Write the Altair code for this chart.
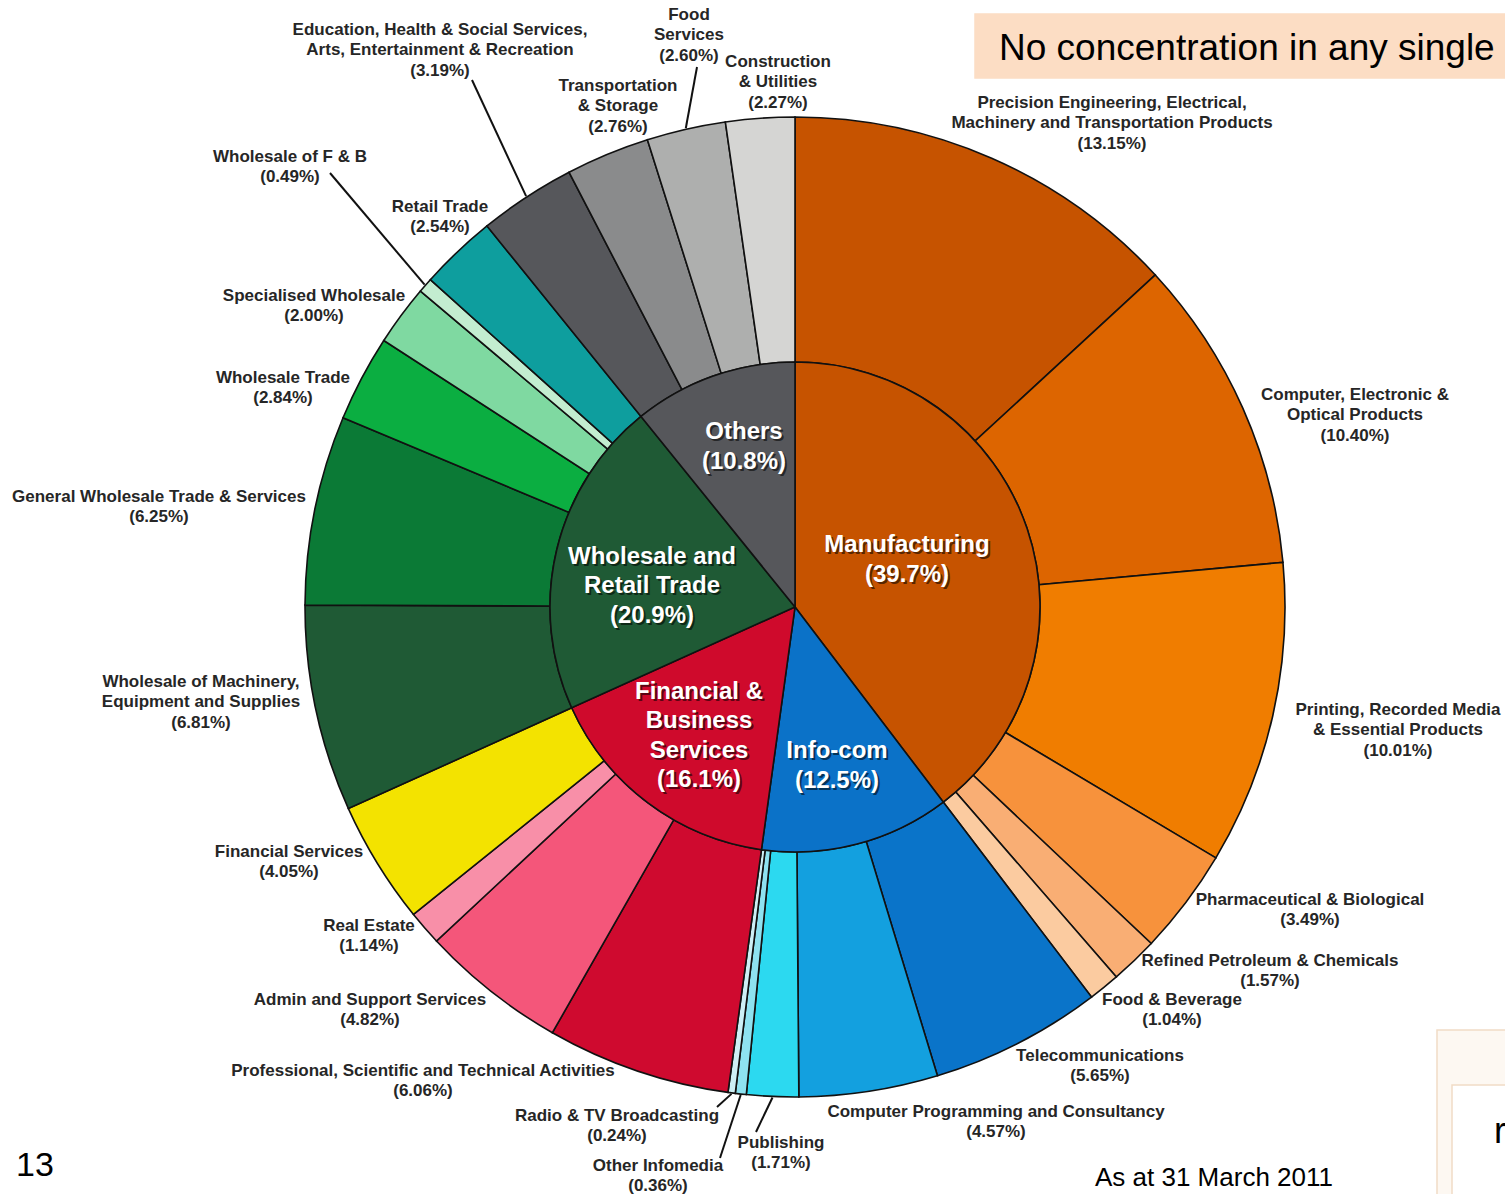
import math
import altair as alt
import pandas as pd

# ---------------- data ----------------
sectors = ["Manufacturing", "Info-com", "Financial & Business Services",
           "Wholesale and Retail Trade", "Others"]
sector_lines = ["Manufacturing", "Info-com", "Financial &\nBusiness\nServices",
                "Wholesale and\nRetail Trade", "Others"]
sector_pct = [39.7, 12.5, 16.1, 20.9, 10.8]

sub_names = [
    "Precision Engineering, Electrical,\nMachinery and Transportation Products",
    "Computer, Electronic &\nOptical Products",
    "Printing, Recorded Media\n& Essential Products",
    "Pharmaceutical & Biological",
    "Refined Petroleum & Chemicals",
    "Food & Beverage",
    "Telecommunications",
    "Computer Programming and Consultancy",
    "Publishing",
    "Other Infomedia",
    "Radio & TV Broadcasting",
    "Professional, Scientific and Technical Activities",
    "Admin and Support Services",
    "Real Estate",
    "Financial Services",
    "Wholesale of Machinery,\nEquipment and Supplies",
    "General Wholesale Trade & Services",
    "Wholesale Trade",
    "Specialised Wholesale",
    "Wholesale of F & B",
    "Retail Trade",
    "Education, Health & Social Services,\nArts, Entertainment & Recreation",
    "Transportation\n& Storage",
    "Food\nServices",
    "Construction\n& Utilities",
]
sub_values = [13.15, 10.40, 10.01, 3.49, 1.57, 1.04,
              5.65, 4.57, 1.71, 0.36, 0.24,
              6.06, 4.82, 1.14, 4.05,
              6.81, 6.25, 2.84, 2.00, 0.49, 2.54,
              3.19, 2.76, 2.60, 2.27]
sub_sector = (["Manufacturing"] * 6 + ["Info-com"] * 5 +
              ["Financial & Business Services"] * 4 +
              ["Wholesale and Retail Trade"] * 6 + ["Others"] * 4)

# ---------------- styles / layout ----------------
sector_colors = ["#C65300", "#0B72C8", "#CF0A2C", "#1F5A35", "#56575B"]
sub_colors = ["#C65300", "#DD6500", "#F07D00", "#F7923C", "#F9AE74", "#FBCBA0",
              "#0A74C9", "#13A0DF", "#2CD9F0", "#8EE2F0", "#CDEFF5",
              "#CF0A2F", "#F4567A", "#F88FA8", "#F3E300",
              "#1F5A35", "#0B7A36", "#0BAE41", "#7FD9A1", "#C3EDD0", "#0E9E9E",
              "#56575B", "#8A8B8C", "#AEAFAE", "#D5D5D3"]

CX, CY = 795, 607
R_IN, R_OUT = 245, 490
FONT = "Liberation Sans"
SUB_LH = 20.5
SEC_LH = 29.5

# label block centres (annotation layout)
label_pos = [(1112, 123), (1355, 415), (1398, 730), (1310, 910), (1270, 971),
             (1172, 1010), (1100, 1066), (996, 1122), (781, 1153), (658, 1176),
             (617, 1126), (423, 1081), (370, 1010), (369, 936), (289, 862),
             (201, 702), (159, 507), (283, 388), (314, 306), (290, 167),
             (440, 217), (440, 50), (618, 106), (689, 35), (778, 82)]
# leader line start points (label side) for crowded slices
leader_start = {
    "Education, Health & Social Services,\nArts, Entertainment & Recreation": (472, 80),
    "Food\nServices": (697, 67),
    "Wholesale of F & B": (330, 173),
    "Radio & TV Broadcasting": (717, 1107),
    "Other Infomedia": (720, 1158),
    "Publishing": (756, 1132),
}
sector_label_pos = [(907, 560), (837, 766), (699, 736), (652, 586), (744, 447)]

# ---------------- build tables ----------------
total = sum(sub_values)
rows = []
cum = 0.0
for n, v, s, (px, py) in zip(sub_names, sub_values, sub_sector, label_pos):
    label = f"{n}\n({v:.2f}%)"
    nl = label.count("\n") + 1
    rows.append({"name": n, "sector": s, "t0": cum, "t1": cum + v,
                 "label": label, "lx": px, "ly": py - (nl - 1) * SUB_LH / 2})
    cum += v
sub_df = pd.DataFrame(rows)

sec_rows = []
cum = 0.0
for s, lines, pct, (px, py) in zip(sectors, sector_lines, sector_pct, sector_label_pos):
    v = sum(val for val, ss in zip(sub_values, sub_sector) if ss == s)
    label = f"{lines}\n({pct:.1f}%)"
    nl = label.count("\n") + 1
    sec_rows.append({"sector": s, "t0": cum, "t1": cum + v,
                     "label": label, "lx": px, "ly": py - (nl - 1) * SEC_LH / 2})
    cum += v
sec_df = pd.DataFrame(sec_rows)

lead_rows = []
for _, r in sub_df.iterrows():
    if r["name"] in leader_start:
        mid = (r["t0"] + r["t1"]) / 2 / total * 2 * math.pi
        x2 = CX + (R_OUT + 1) * math.sin(mid)
        y2 = CY - (R_OUT + 1) * math.cos(mid)
        x1, y1 = leader_start[r["name"]]
        lead_rows.append({"x": x1, "y": y1, "x2": x2, "y2": y2})
lead_df = pd.DataFrame(lead_rows)

theta_scale = alt.Scale(domain=[0, total], range=[0, 2 * math.pi], nice=False, zero=True)

outer = alt.Chart(sub_df).mark_arc(
    radius=R_OUT, radius2=R_IN, stroke="#111111", strokeWidth=1.6
).encode(
    theta=alt.Theta("t0:Q", scale=theta_scale),
    theta2="t1:Q",
    color=alt.Color("name:N", scale=alt.Scale(domain=sub_names, range=sub_colors), legend=None),
    x=alt.value(CX), y=alt.value(CY),
)

inner = alt.Chart(sec_df).mark_arc(
    radius=R_IN, stroke="#111111", strokeWidth=1.6
).encode(
    theta=alt.Theta("t0:Q", scale=theta_scale),
    theta2="t1:Q",
    fill=alt.Fill("sector:N", scale=alt.Scale(domain=sectors, range=sector_colors), legend=None),
    x=alt.value(CX), y=alt.value(CY),
)

leaders = alt.Chart(lead_df).mark_rule(color="#111111", strokeWidth=2).encode(
    x=alt.X("x:Q", scale=None, axis=None), y=alt.Y("y:Q", scale=None, axis=None),
    x2="x2:Q", y2="y2:Q",
)

sub_text = alt.Chart(sub_df).mark_text(
    font=FONT, fontSize=17, fontWeight="bold", color="#262626",
    lineBreak="\n", lineHeight=SUB_LH, align="center", baseline="middle"
).encode(
    x=alt.X("lx:Q", scale=None, axis=None), y=alt.Y("ly:Q", scale=None, axis=None),
    text="label:N",
)

sec_shadow = alt.Chart(sec_df).mark_text(
    font=FONT, fontSize=24, fontWeight="bold", color="#000000", opacity=0.55,
    lineBreak="\n", lineHeight=SEC_LH, align="center", baseline="middle", dx=2, dy=2
).encode(
    x=alt.X("lx:Q", scale=None, axis=None), y=alt.Y("ly:Q", scale=None, axis=None),
    text="label:N",
)
sec_text = alt.Chart(sec_df).mark_text(
    font=FONT, fontSize=24, fontWeight="bold", color="#FFFFFF",
    lineBreak="\n", lineHeight=SEC_LH, align="center", baseline="middle"
).encode(
    x=alt.X("lx:Q", scale=None, axis=None), y=alt.Y("ly:Q", scale=None, axis=None),
    text="label:N",
)

# decorations: title box, page number, date, cropped picture frame
box_df = pd.DataFrame([
    {"x": 975, "x2": 1505, "y": 14, "y2": 78, "f": "#FCDDC4", "s": "#FCDDC4"},
    {"x": 1437, "x2": 1510, "y": 1030, "y2": 1200, "f": "#FDF8F2", "s": "#F1DCC6"},
    {"x": 1452, "x2": 1510, "y": 1085, "y2": 1200, "f": "#FFFFFF", "s": "#F1DCC6"},
])
boxes = alt.Chart(box_df).mark_rect(strokeWidth=1.5).encode(
    x=alt.X("x:Q", scale=None, axis=None), x2="x2:Q",
    y=alt.Y("y:Q", scale=None, axis=None), y2="y2:Q",
    fill=alt.Fill("f:N", scale=None), stroke=alt.Stroke("s:N", scale=None),
)

notes_df = pd.DataFrame([
    {"t": "No concentration in any single", "x": 999, "y": 60, "size": 37},
    {"t": "13", "x": 16, "y": 1176, "size": 34},
    {"t": "As at 31 March 2011", "x": 1095, "y": 1186, "size": 26},
    {"t": "r", "x": 1494, "y": 1143, "size": 36},
])
notes = alt.Chart(notes_df).mark_text(
    font=FONT, color="#000000", baseline="alphabetic", align="left"
).encode(
    x=alt.X("x:Q", scale=None, axis=None), y=alt.Y("y:Q", scale=None, axis=None),
    text="t:N", size=alt.Size("size:Q", scale=None, legend=None),
)

chart = alt.layer(
    boxes, notes, outer, inner, leaders, sub_text, sec_shadow, sec_text
).properties(
    width=1505, height=1194, padding=0,
    autosize=alt.AutoSizeParams(type="none"),
    background="white",
).configure_view(stroke=None)

chart.save("out.html", embed_options={"renderer": "svg", "actions": False})
